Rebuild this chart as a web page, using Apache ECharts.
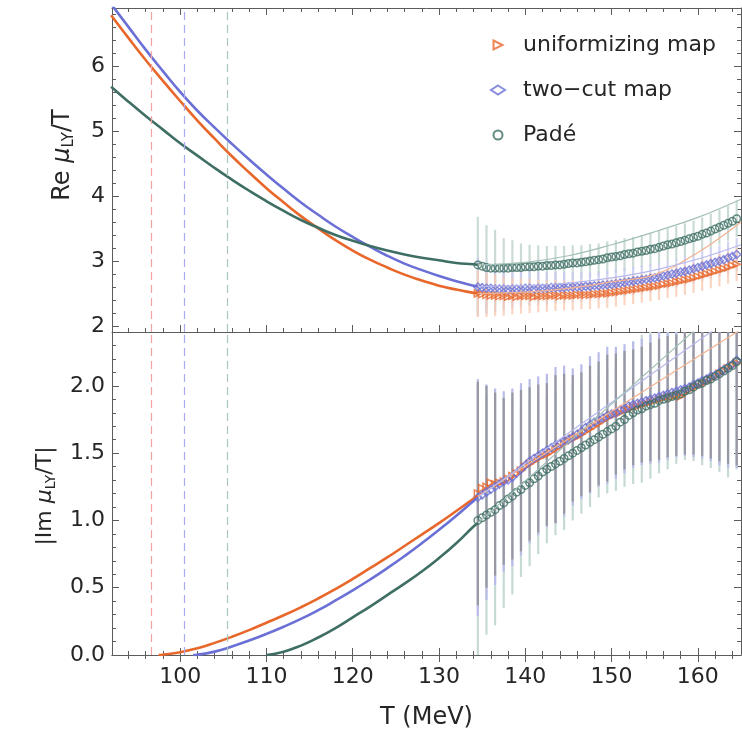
<!DOCTYPE html>
<html>
<head>
<meta charset="utf-8">
<script src="https://cdn.jsdelivr.net/npm/echarts@6/dist/echarts.min.js"></script>
<style>
  html, body { margin: 0; padding: 0; background: #fff; }
  #chart { width: 742px; height: 733px; }
</style>
</head>
<body>
<div id="chart"></div>
<script>
// tick values
const xMajor = [100, 110, 120, 130, 140, 150, 160];
const xMinor = [94, 96, 98, 102, 104, 106, 108, 112, 114, 116, 118, 122, 124, 126, 128, 132, 134, 136, 138, 142, 144, 146, 148, 152, 154, 156, 158, 162, 164];
const reMajor = [2, 3, 4, 5, 6];
const reMinor = [2.2, 2.4, 2.6, 2.8, 3.2, 3.4, 3.6, 3.8, 4.2, 4.4, 4.6, 4.8, 5.2, 5.4, 5.6, 5.8, 6.2, 6.4, 6.6, 6.8];
const imMajor = [0, 0.5, 1.0, 1.5, 2.0];
const imMinor = [0.1, 0.2, 0.3, 0.4, 0.6, 0.7, 0.8, 0.9, 1.1, 1.2, 1.3, 1.4, 1.6, 1.7, 1.8, 1.9, 2.1, 2.2, 2.3];

// dashed vertical lines (uniformizing, two-cut, Padé)
const dashX = [96.7, 100.5, 105.4];

// solid curves, Re part
const curveT = [92, 94, 96, 98, 100, 102, 104, 106, 108, 110, 112, 114, 116, 118, 120, 122, 124, 126, 128, 130, 132, 134, 134.5];
const reUniCurve = [6.78, 6.43, 6.09, 5.77, 5.46, 5.16, 4.88, 4.61, 4.36, 4.12, 3.90, 3.69, 3.50, 3.32, 3.16, 3.02, 2.90, 2.79, 2.70, 2.62, 2.56, 2.51, 2.50];
const reTwoCurve = [6.95, 6.60, 6.25, 5.92, 5.60, 5.31, 5.05, 4.80, 4.56, 4.33, 4.11, 3.90, 3.71, 3.53, 3.37, 3.22, 3.08, 2.96, 2.86, 2.77, 2.69, 2.62, 2.61];
const rePadeCurve = [5.68, 5.45, 5.23, 5.02, 4.81, 4.62, 4.43, 4.25, 4.08, 3.92, 3.77, 3.63, 3.51, 3.40, 3.31, 3.23, 3.16, 3.10, 3.05, 3.01, 2.97, 2.95, 2.94];

// solid curves, Im part
const imUniT = [97.5, 98, 100, 102, 104, 106, 108, 110, 112, 114, 116, 118, 120, 122, 124, 126, 128, 130, 132, 134, 134.5];
const imUniCurve = [0, 0.002, 0.02, 0.05, 0.09, 0.135, 0.185, 0.24, 0.295, 0.355, 0.42, 0.49, 0.565, 0.645, 0.725, 0.81, 0.895, 0.98, 1.07, 1.16, 1.18];
const imTwoT = [101.5, 102, 104, 106, 108, 110, 112, 114, 116, 118, 120, 122, 124, 126, 128, 130, 132, 134, 134.5];
const imTwoCurve = [0, 0.002, 0.025, 0.063, 0.108, 0.157, 0.21, 0.268, 0.333, 0.405, 0.48, 0.56, 0.645, 0.735, 0.83, 0.93, 1.035, 1.145, 1.17];
const imPadeT = [110, 112, 114, 116, 118, 120, 122, 124, 126, 128, 130, 132, 134, 134.5];
const imPadeCurve = [0, 0.025, 0.07, 0.13, 0.20, 0.28, 0.36, 0.445, 0.53, 0.62, 0.72, 0.83, 0.955, 0.98];

// faint continuation lines
const liteT = [134.5, 140, 145, 150, 155, 160, 165];
const reUniLite = [2.50, 2.52, 2.58, 2.68, 2.79, 3.13, 3.60];
const reTwoLite = [2.61, 2.62, 2.66, 2.74, 2.86, 3.03, 3.25];
const rePadeLite = [2.94, 2.98, 3.08, 3.25, 3.45, 3.67, 3.95];
const imLiteT = [134.5, 165];
const imUniLite = [1.18, 2.42];
const imTwoLite = [1.17, 2.56];
const imPadeLite = [0.98, 2.72];

// data points (every 0.5 MeV from 134.5 to 164.5)
const ptT = [134.5, 135, 135.5, 136, 136.5, 137, 137.5, 138, 138.5, 139,
  139.5, 140, 140.5, 141, 141.5, 142, 142.5, 143, 143.5, 144,
  144.5, 145, 145.5, 146, 146.5, 147, 147.5, 148, 148.5, 149,
  149.5, 150, 150.5, 151, 151.5, 152, 152.5, 153, 153.5, 154,
  154.5, 155, 155.5, 156, 156.5, 157, 157.5, 158, 158.5, 159,
  159.5, 160, 160.5, 161, 161.5, 162, 162.5, 163, 163.5, 164,
  164.5];
const reUni = [2.50, 2.49, 2.48, 2.47, 2.47, 2.46, 2.46, 2.45, 2.46, 2.45,
  2.46, 2.46, 2.46, 2.45, 2.46, 2.46, 2.46, 2.47, 2.47, 2.46,
  2.47, 2.47, 2.47, 2.48, 2.48, 2.48, 2.48, 2.49, 2.49, 2.50,
  2.50, 2.51, 2.52, 2.53, 2.54, 2.55, 2.56, 2.57, 2.58, 2.59,
  2.60, 2.61, 2.62, 2.64, 2.65, 2.66, 2.68, 2.69, 2.71, 2.72,
  2.74, 2.76, 2.78, 2.80, 2.82, 2.84, 2.86, 2.88, 2.90, 2.93,
  2.95];
const reTwo = [2.60, 2.59, 2.58, 2.58, 2.57, 2.57, 2.57, 2.56, 2.57, 2.57,
  2.57, 2.58, 2.58, 2.57, 2.58, 2.58, 2.58, 2.59, 2.59, 2.59,
  2.59, 2.60, 2.60, 2.60, 2.60, 2.61, 2.61, 2.62, 2.62, 2.63,
  2.63, 2.64, 2.65, 2.66, 2.67, 2.68, 2.69, 2.70, 2.71, 2.72,
  2.73, 2.74, 2.75, 2.77, 2.78, 2.80, 2.81, 2.83, 2.84, 2.86,
  2.88, 2.90, 2.92, 2.94, 2.96, 2.98, 3.00, 3.02, 3.05, 3.07,
  3.10];
const rePade = [2.94, 2.92, 2.90, 2.89, 2.89, 2.89, 2.89, 2.89, 2.90, 2.90,
  2.90, 2.91, 2.91, 2.91, 2.92, 2.92, 2.93, 2.93, 2.94, 2.94,
  2.95, 2.96, 2.97, 2.97, 2.98, 2.99, 3.00, 3.01, 3.02, 3.03,
  3.05, 3.06, 3.07, 3.08, 3.10, 3.11, 3.12, 3.14, 3.15, 3.16,
  3.18, 3.19, 3.21, 3.23, 3.25, 3.26, 3.28, 3.30, 3.32, 3.34,
  3.36, 3.38, 3.41, 3.43, 3.46, 3.49, 3.52, 3.55, 3.58, 3.61,
  3.65];
const imUni = [1.20, 1.24, 1.25, 1.28, 1.27, 1.28, 1.29, 1.31, 1.33, 1.35,
  1.37, 1.40, 1.42, 1.44, 1.46, 1.48, 1.49, 1.51, 1.53, 1.55,
  1.57, 1.59, 1.61, 1.62, 1.64, 1.66, 1.68, 1.70, 1.72, 1.74,
  1.76, 1.78, 1.79, 1.80, 1.82, 1.83, 1.84, 1.85, 1.86, 1.87,
  1.88, 1.89, 1.90, 1.91, 1.92, 1.92, 1.93, 1.92, 1.95, 1.97,
  1.99, 2.00, 2.02, 2.03, 2.05, 2.07, 2.09, 2.11, 2.13, 2.15,
  2.17];
const imTwo = [1.17, 1.19, 1.21, 1.23, 1.25, 1.27, 1.29, 1.30, 1.32, 1.35,
  1.38, 1.41, 1.44, 1.46, 1.48, 1.50, 1.52, 1.54, 1.56, 1.57,
  1.59, 1.60, 1.62, 1.64, 1.66, 1.69, 1.71, 1.73, 1.75, 1.76,
  1.78, 1.79, 1.80, 1.82, 1.83, 1.85, 1.86, 1.87, 1.88, 1.89,
  1.90, 1.91, 1.92, 1.93, 1.94, 1.95, 1.96, 1.97, 1.98, 1.99,
  2.01, 2.02, 2.04, 2.05, 2.07, 2.08, 2.10, 2.12, 2.14, 2.16,
  2.19];
const imPade = [1.00, 1.02, 1.04, 1.06, 1.08, 1.11, 1.13, 1.16, 1.18, 1.21,
  1.23, 1.26, 1.28, 1.31, 1.33, 1.36, 1.38, 1.40, 1.42, 1.44,
  1.46, 1.48, 1.50, 1.52, 1.54, 1.56, 1.58, 1.60, 1.62, 1.64,
  1.66, 1.68, 1.70, 1.73, 1.75, 1.78, 1.80, 1.82, 1.83, 1.85,
  1.86, 1.87, 1.89, 1.90, 1.91, 1.92, 1.93, 1.94, 1.96, 1.97,
  1.99, 2.01, 2.02, 2.04, 2.05, 2.07, 2.09, 2.11, 2.13, 2.15,
  2.18];

// error bar half-widths, one per whole step (134.5, 135.5, ... 164.5)
const reUniErr = [0.36, 0.34, 0.32, 0.30, 0.28, 0.27, 0.26, 0.25, 0.24, 0.24, 0.23, 0.23, 0.22, 0.22, 0.22, 0.22, 0.22, 0.22, 0.22, 0.22, 0.22, 0.22, 0.22, 0.23, 0.23, 0.23, 0.24, 0.24, 0.25, 0.25, 0.26];
const reTwoErr = [0.45, 0.40, 0.36, 0.33, 0.30, 0.28, 0.27, 0.26, 0.25, 0.24, 0.24, 0.23, 0.23, 0.22, 0.22, 0.22, 0.22, 0.22, 0.22, 0.22, 0.22, 0.22, 0.22, 0.22, 0.23, 0.23, 0.23, 0.24, 0.24, 0.25, 0.25];
const rePadeErr = [0.74, 0.65, 0.59, 0.46, 0.42, 0.37, 0.34, 0.32, 0.30, 0.29, 0.28, 0.27, 0.26, 0.26, 0.25, 0.25, 0.25, 0.25, 0.25, 0.25, 0.25, 0.25, 0.25, 0.26, 0.26, 0.26, 0.26, 0.27, 0.27, 0.27, 0.28];
const imUniErr = [0.83, 0.75, 0.68, 0.62, 0.62, 0.60, 0.57, 0.55, 0.53, 0.55, 0.52, 0.47, 0.46, 0.47, 0.46, 0.47, 0.45, 0.44, 0.43, 0.43, 0.44, 0.45, 0.45, 0.45, 0.46, 0.50, 0.54, 0.59, 0.65, 0.71, 0.76];
const imTwoErr = [0.88, 0.80, 0.73, 0.67, 0.66, 0.64, 0.61, 0.59, 0.57, 0.58, 0.56, 0.51, 0.50, 0.51, 0.50, 0.51, 0.49, 0.48, 0.47, 0.47, 0.48, 0.49, 0.49, 0.49, 0.50, 0.54, 0.58, 0.63, 0.69, 0.75, 0.80];
const imPadeErr = [1.00, 0.89, 0.86, 0.78, 0.73, 0.65, 0.62, 0.58, 0.55, 0.53, 0.53, 0.50, 0.49, 0.48, 0.45, 0.46, 0.48, 0.50, 0.53, 0.55, 0.55, 0.54, 0.53, 0.51, 0.51, 0.55, 0.61, 0.66, 0.73, 0.81, 0.80];

const NAMES = ["uniformizing map", "two−cut map", "Padé"];
const COL = ["#e8672a", "#6b70d6", "#3f6f64"];
const LITE = ["#f2b291", "#b6b8ec", "#a3c0b8"];
const DASH = ["#f3a3a3", "#aaaaf0", "#a9c6bf"];
const FONT = "DejaVu Sans";
const FRAME = "#5c5c5c";
const TXT = "#262626";

function zip(t, v) {
  return t.map((x, i) => [x, v[i]]);
}
// error bars sit on every second point
function bars(v, e) {
  return e.map((err, i) => [ptT[2 * i], v[2 * i] - err, v[2 * i] + err]);
}

const chart = echarts.init(document.getElementById("chart"));

const grids = [
  { left: 112, top: 8, width: 629, height: 324 },
  { left: 112, top: 332, width: 629, height: 323 },
];
const yRange = [[1.908, 6.89], [0, 2.4]];
const yMajor = [reMajor, imMajor];
const yMinor = [reMinor, imMinor];

let xAxes = [];
let yAxes = [];
for (let g = 0; g < 2; g++) {
  ["bottom", "top"].forEach((pos) => {
    [true, false].forEach((major) => {
      const main = g === 1 && pos === "bottom" && major;
      xAxes.push({
        type: "value", gridIndex: g, position: pos, min: 92.1, max: 165,
        splitLine: { show: false },
        axisLine: { show: major, lineStyle: { color: FRAME, width: 1 } },
        axisTick: {
          show: true, inside: true, length: major ? 7 : 4,
          customValues: major ? xMajor : xMinor,
          lineStyle: { color: FRAME, width: 1 },
        },
        axisLabel: {
          show: main, customValues: xMajor, margin: 11,
          fontFamily: FONT, fontSize: 22, color: TXT,
        },
        name: main ? "T (MeV)" : "",
        nameLocation: "middle", nameGap: 51,
        nameTextStyle: { fontFamily: FONT, fontSize: 24, color: TXT },
      });
    });
  });
  ["left", "right"].forEach((pos) => {
    [true, false].forEach((major) => {
      yAxes.push({
        type: "value", gridIndex: g, position: pos, min: yRange[g][0], max: yRange[g][1],
        splitLine: { show: false },
        axisLine: { show: major, lineStyle: { color: FRAME, width: 1 } },
        axisTick: {
          show: true, inside: true, length: major ? 7 : 4,
          customValues: major ? yMajor[g] : yMinor[g],
          lineStyle: { color: FRAME, width: 1 },
        },
        axisLabel: {
          show: pos === "left" && major,
          customValues: yMajor[g], margin: 7,
          fontFamily: FONT, fontSize: 22, color: TXT,
          formatter: (v) => (g === 0 ? String(v) : v.toFixed(1)),
        },
      });
    });
  });
}

function errSeries(g, data, color, width, opacity) {
  return {
    type: "custom", xAxisIndex: g * 4, yAxisIndex: g * 4, clip: true, silent: true,
    encode: { x: 0, y: [1, 2] },
    renderItem: (params, api) => {
      const p1 = api.coord([api.value(0), api.value(1)]);
      const p2 = api.coord([api.value(0), api.value(2)]);
      return {
        type: "line",
        shape: { x1: p1[0], y1: p1[1], x2: p2[0], y2: p2[1] },
        style: { stroke: color, lineWidth: width, opacity: opacity },
      };
    },
    data: data,
  };
}
function lineSeries(g, data, color, width, smooth) {
  return {
    type: "line", xAxisIndex: g * 4, yAxisIndex: g * 4, data: data,
    showSymbol: false, smooth: smooth, silent: true,
    lineStyle: { color: color, width: width },
  };
}
function dashSeries(g) {
  return {
    type: "line", xAxisIndex: g * 4, yAxisIndex: g * 4, data: [], silent: true,
    markLine: {
      silent: true, symbol: "none", label: { show: false },
      data: dashX.map((x, i) => ({
        xAxis: x,
        lineStyle: { color: DASH[i], type: [8, 5], width: 1.2 },
      })),
    },
  };
}
// right-pointing triangle, diamond, circle
const SYM = ["path://M0,0L10,5L0,10Z", "diamond", "circle"];
const SYMSIZE = [7, 8, 7.5];
function pointSeries(g, i, data, named) {
  return {
    name: named ? NAMES[i] : undefined,
    type: "scatter", xAxisIndex: g * 4, yAxisIndex: g * 4, data: data,
    symbol: SYM[i], symbolSize: SYMSIZE[i], symbolKeepAspect: true,
    silent: true,
    itemStyle: { color: "rgba(255,255,255,0)", borderColor: COL[i], borderWidth: 1.5 },
  };
}

const reVals = [reUni, reTwo, rePade];
const reCurves = [reUniCurve, reTwoCurve, rePadeCurve];
const reLites = [reUniLite, reTwoLite, rePadeLite];
const imVals = [imUni, imTwo, imPade];
const imCurves = [zip(imUniT, imUniCurve), zip(imTwoT, imTwoCurve), zip(imPadeT, imPadeCurve)];
const imLites = [imUniLite, imTwoLite, imPadeLite];

let series = [dashSeries(0), dashSeries(1)];
// top panel error bars
series.push(errSeries(0, bars(rePade, rePadeErr), "#c4d7d2", 2.2, 0.9));
series.push(errSeries(0, bars(reTwo, reTwoErr), "#c7c8f0", 2.2, 0.8));
series.push(errSeries(0, bars(reUni, reUniErr), "#f8cbb3", 2.2, 0.8));
// bottom panel error bars
series.push(errSeries(1, bars(imPade, imPadeErr), "#c6dad5", 2.2, 1));
series.push(errSeries(1, bars(imTwo, imTwoErr), "#b9bce9", 2.2, 1));
series.push(errSeries(1, bars(imUni, imUniErr), "#8e8e8e", 2.2, 0.8));
for (let i = 0; i < 3; i++) {
  series.push(lineSeries(0, zip(liteT, reLites[i]), LITE[i], 1.2, 0.4));
  series.push(lineSeries(1, zip(imLiteT, imLites[i]), LITE[i], 1.2, false));
}
for (let i = 0; i < 3; i++) {
  series.push(lineSeries(0, zip(curveT, reCurves[i]), COL[i], 2.6, 0.5));
  series.push(lineSeries(1, imCurves[i], COL[i], 2.6, 0.5));
}
for (let i = 0; i < 3; i++) {
  series.push(pointSeries(0, i, zip(ptT, reVals[i]), true));
  series.push(pointSeries(1, i, zip(ptT, imVals[i]), false));
}

function titleRich(size, sub) {
  return {
    a: { fontFamily: FONT, fontSize: size, fill: TXT, lineHeight: size + 4 },
    m: { fontFamily: FONT, fontSize: size, fontStyle: "italic", fill: TXT, lineHeight: size + 4 },
    s: { fontFamily: FONT, fontSize: sub, fill: TXT, lineHeight: sub, verticalAlign: "bottom" },
  };
}

const option = {
  animation: false,
  backgroundColor: "#fff",
  grid: grids,
  xAxis: xAxes,
  yAxis: yAxes,
  legend: {
    orient: "vertical", left: 485, top: 28, itemGap: 21,
    itemWidth: 14, itemHeight: 9,
    data: NAMES,
    textStyle: { fontFamily: FONT, fontSize: 22, color: TXT, lineHeight: 24, padding: [0, 0, 0, 13] },
  },
  graphic: [
    {
      type: "text", x: 63, y: 155, rotation: Math.PI / 2,
      style: { text: "{a|Re }{m|μ}{s|LY}{a|/T}", align: "center", verticalAlign: "middle", rich: titleRich(24, 15) },
    },
    {
      type: "text", x: 45, y: 496, rotation: Math.PI / 2,
      style: { text: "{a||Im }{m|μ}{s|LY}{a|/T|}", align: "center", verticalAlign: "middle", rich: titleRich(22, 14) },
    },
  ],
  series: series,
};

chart.setOption(option);
</script>
</body>
</html>
